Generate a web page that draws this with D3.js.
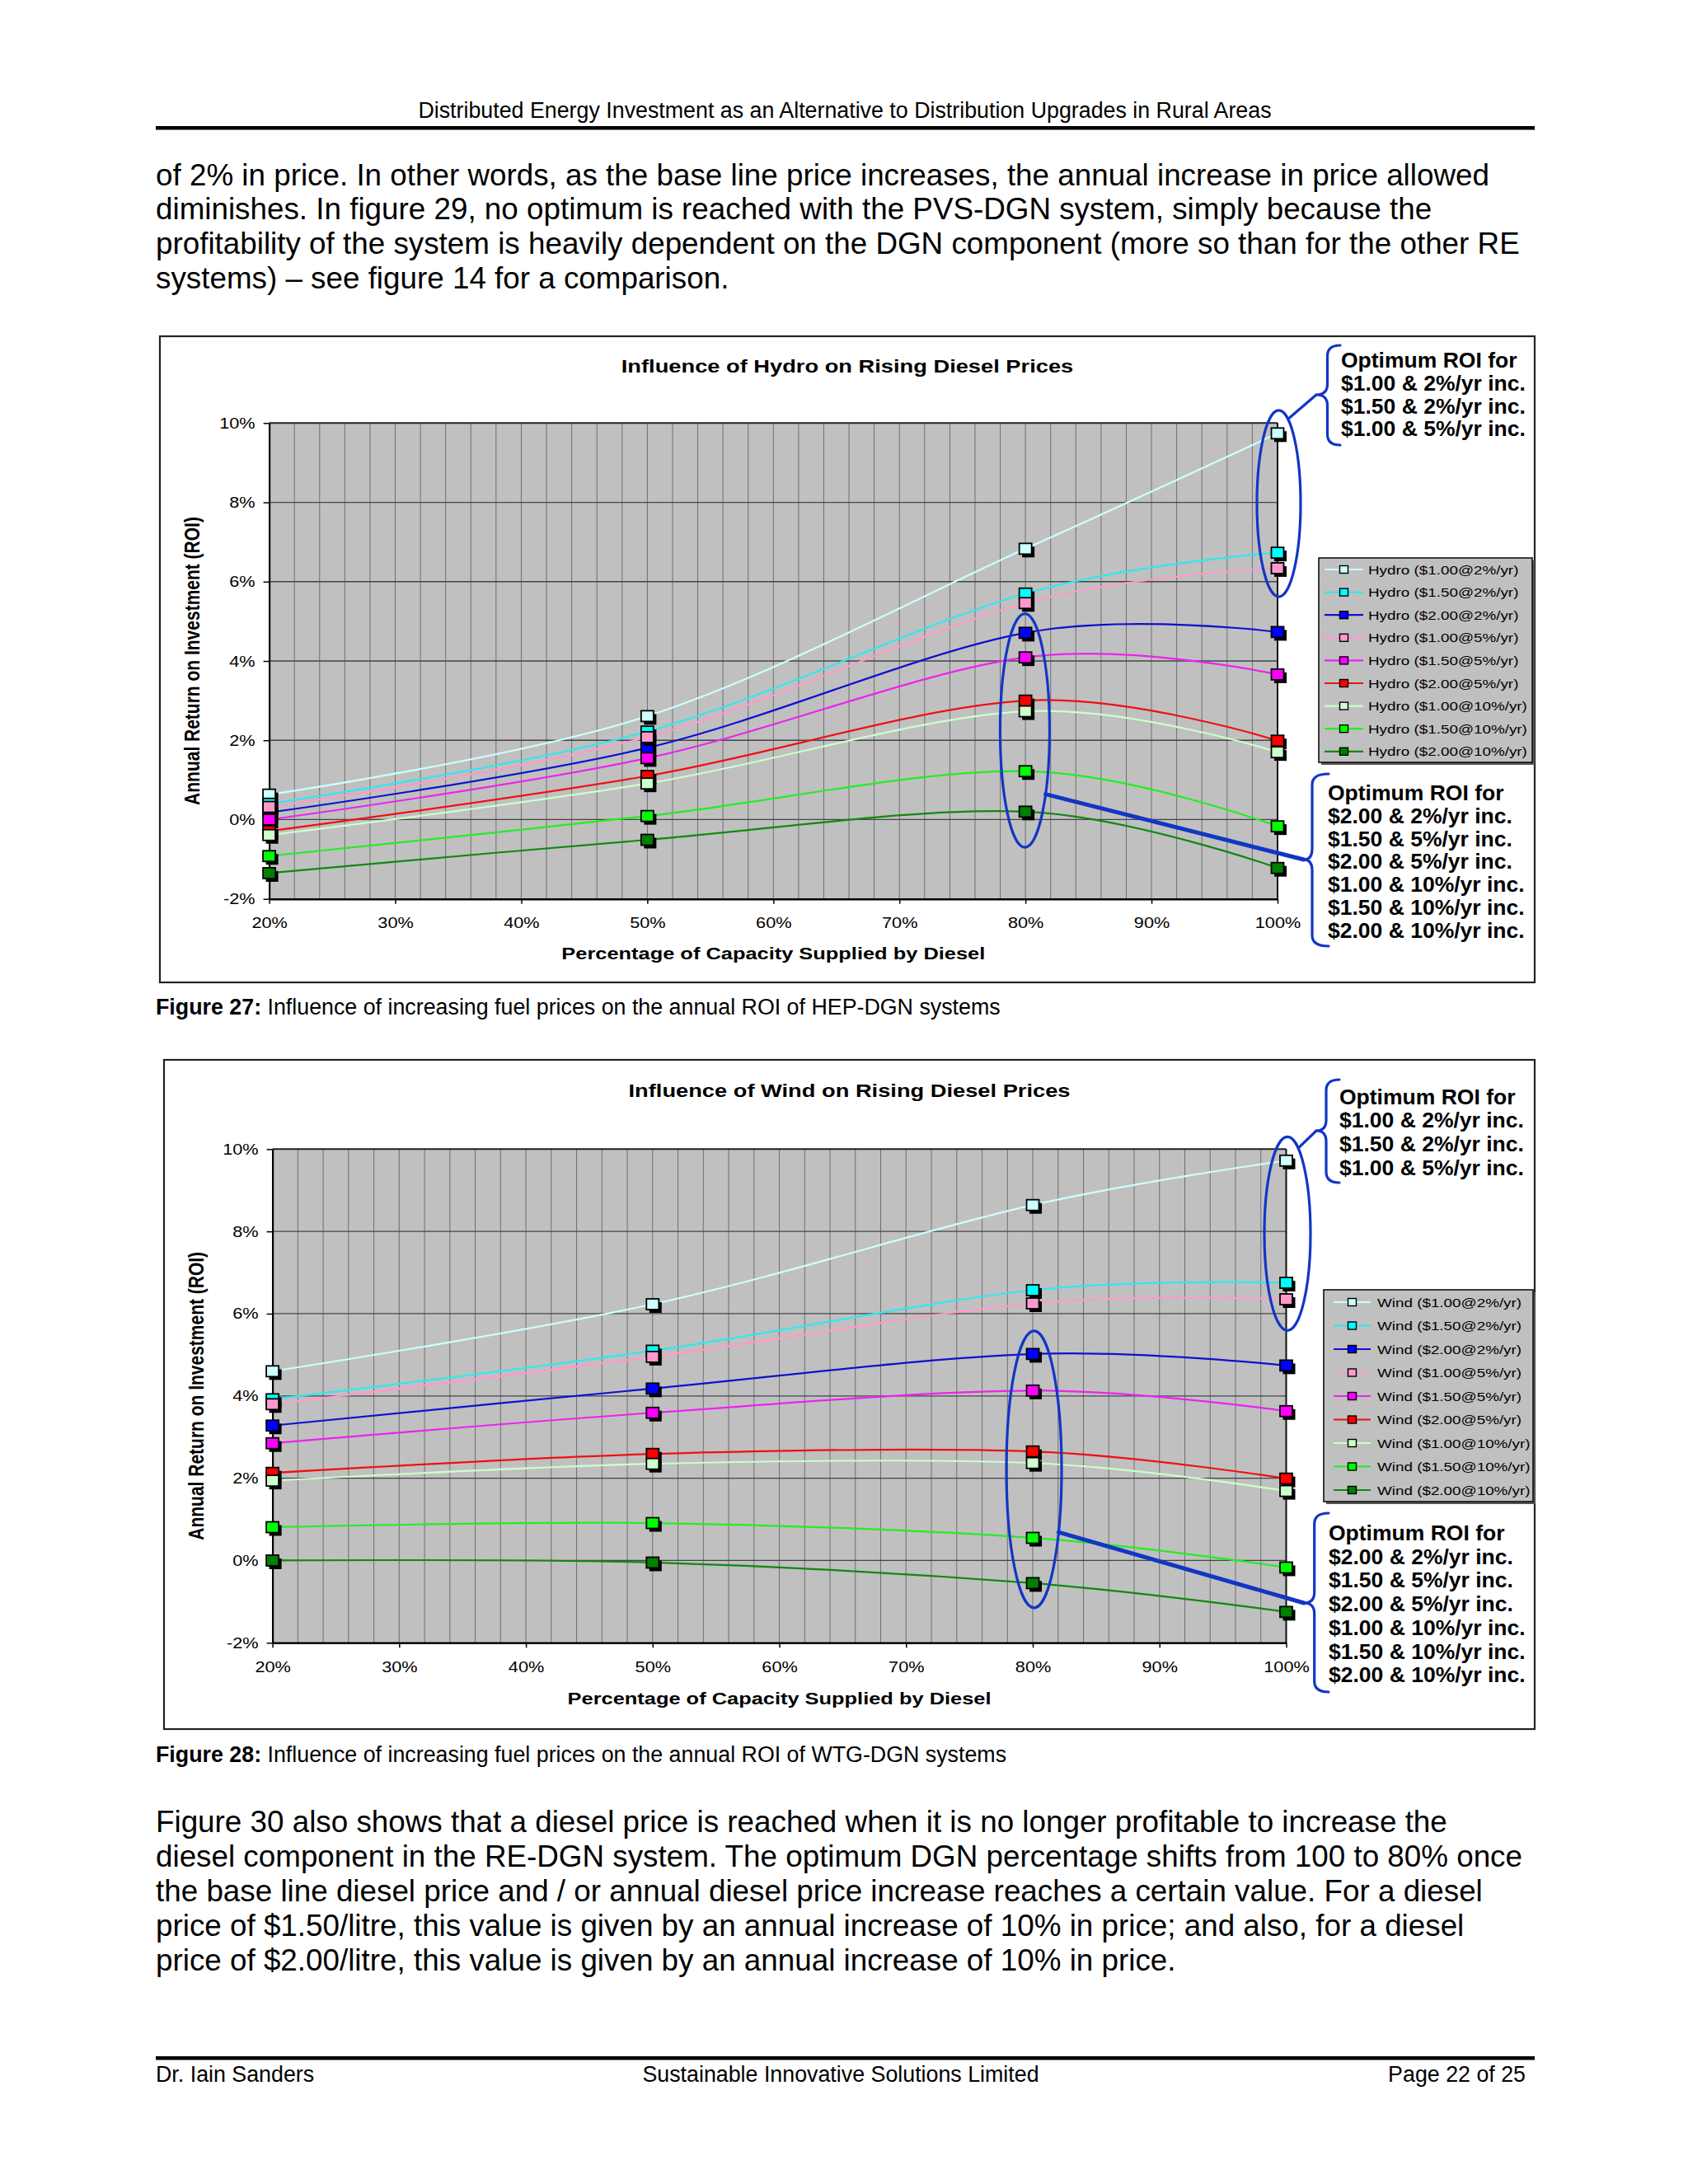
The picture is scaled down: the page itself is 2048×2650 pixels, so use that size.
<!DOCTYPE html>
<html><head><meta charset="utf-8">
<script src="https://cdn.jsdelivr.net/npm/d3@7/dist/d3.min.js"></script>
<style>
body{margin:0;background:#fff}
svg{display:block}
text{font-family:"Liberation Sans",Arial,Helvetica,sans-serif}
</style>
</head><body>
<svg id="page" width="2048" height="2650"></svg>
<script>
// ---------------- DATA ----------------
const xCategories = [20, 50, 80, 100];
const xTicks = [20, 30, 40, 50, 60, 70, 80, 90, 100];
const yTicks = [-2, 0, 2, 4, 6, 8, 10];
const seriesNames = ["$1.00@2%/yr", "$1.50@2%/yr", "$2.00@2%/yr",
                     "$1.00@5%/yr", "$1.50@5%/yr", "$2.00@5%/yr",
                     "$1.00@10%/yr", "$1.50@10%/yr", "$2.00@10%/yr"];
const seriesColors = ["#CCFFFF", "#00FFFF", "#0000FF",
                      "#FF99CC", "#FF00FF", "#FF0000",
                      "#CCFFCC", "#00FF00", "#008000"];
const lineColors   = ["#CCFFFF", "#33E6F0", "#1010D0",
                      "#FF99CC", "#EE22EE", "#EE1111",
                      "#CCFFCC", "#22EE22", "#118811"];
const hydroValues = [
  [0.63, 2.61, 6.83, 9.74],
  [0.40, 2.22, 5.70, 6.73],
  [0.18, 1.81, 4.71, 4.73],
  [0.32, 2.08, 5.46, 6.34],
  [0.00, 1.55, 4.09, 3.66],
  [-0.29, 1.10, 3.00, 1.99],
  [-0.39, 0.91, 2.73, 1.70],
  [-0.92, 0.09, 1.22, -0.17],
  [-1.35, -0.51, 0.20, -1.22]
];
const windValues = [
  [4.60, 6.23, 8.64, 9.72],
  [3.92, 5.10, 6.57, 6.75],
  [3.28, 4.18, 5.02, 4.74],
  [3.80, 4.95, 6.25, 6.35],
  [2.85, 3.59, 4.13, 3.63],
  [2.13, 2.59, 2.65, 1.99],
  [1.94, 2.35, 2.37, 1.69],
  [0.81, 0.91, 0.55, -0.17],
  [0.00, -0.05, -0.55, -1.25]
];
const optimumTop = ["Optimum ROI for", "$1.00 & 2%/yr inc.", "$1.50 & 2%/yr inc.", "$1.00 & 5%/yr inc."];
const optimumBottom = ["Optimum ROI for", "$2.00 & 2%/yr inc.", "$1.50 & 5%/yr inc.", "$2.00 & 5%/yr inc.",
                       "$1.00 & 10%/yr inc.", "$1.50 & 10%/yr inc.", "$2.00 & 10%/yr inc."];
const headerText = "Distributed Energy Investment as an Alternative to Distribution Upgrades in Rural Areas";
const para1 = [
  "of 2% in price. In other words, as the base line price increases, the annual increase in price allowed",
  "diminishes. In figure 29, no optimum is reached with the PVS-DGN system, simply because the",
  "profitability of the system is heavily dependent on the DGN component (more so than for the other RE",
  "systems) \u2013 see figure 14 for a comparison."
];
const para2 = [
  "Figure 30 also shows that a diesel price is reached when it is no longer profitable to increase the",
  "diesel component in the RE-DGN system. The optimum DGN percentage shifts from 100 to 80% once",
  "the base line diesel price and / or annual diesel price increase reaches a certain value. For a diesel",
  "price of $1.50/litre, this value is given by an annual increase of 10% in price; and also, for a diesel",
  "price of $2.00/litre, this value is given by an annual increase of 10% in price."
];
const footer = ["Dr. Iain Sanders", "Sustainable Innovative Solutions Limited", "Page 22 of 25"];

// ---------------- HELPERS ----------------
const svg = d3.select("#page");
const SX = 1.24;               // chart picture is stretched horizontally
const BLUE = "#1236C4";

function stext(g, x, y, str, o) {
  return g.append("text")
    .attr("transform", `translate(${x},${y}) scale(${SX},1)` + (o.rotate ? ` rotate(${o.rotate})` : ""))
    .attr("font-size", o.size)
    .attr("font-weight", o.bold ? "bold" : "normal")
    .attr("text-anchor", o.anchor || "start")
    .attr("fill", "#000")
    .text(str);
}
function bracePath(b) {
  const r1 = 13;
  return `M${b.xEnd},${b.yTop} Q${b.xStem},${b.yTop} ${b.xStem},${b.yTop + r1} L${b.xStem},${b.yTip - r1} ` +
         `Q${b.xStem},${b.yTip} ${b.xTip},${b.yTip} Q${b.xStem},${b.yTip} ${b.xStem},${b.yTip + r1} ` +
         `L${b.xStem},${b.yBot - r1} Q${b.xStem},${b.yBot} ${b.xEnd},${b.yBot}`;
}

function drawChart(cfg) {
  const g = svg.append("g");
  const P = cfg.plot;
  const x = d3.scaleLinear().domain([20, 100]).range([P.x0, P.x1]);
  const y = d3.scaleLinear().domain([-2, 10]).range([P.y1, P.y0]);

  g.append("rect").attr("x", cfg.box.x).attr("y", cfg.box.y).attr("width", cfg.box.w).attr("height", cfg.box.h)
    .attr("fill", "#fff").attr("stroke", "#222").attr("stroke-width", 2.2);

  // plot background
  g.append("rect").attr("x", P.x0).attr("y", P.y0).attr("width", P.x1 - P.x0).attr("height", P.y1 - P.y0)
    .attr("fill", "#C0C0C0");
  // vertical minor gridlines every 2%
  g.append("g").selectAll("line").data(d3.range(22, 100, 2)).join("line")
    .attr("x1", d => x(d)).attr("x2", d => x(d)).attr("y1", P.y0).attr("y2", P.y1)
    .attr("stroke", "#6e6e6e").attr("stroke-width", 1);
  // horizontal major gridlines
  g.append("g").selectAll("line").data(yTicks.filter(d => d > -2)).join("line")
    .attr("x1", P.x0).attr("x2", P.x1).attr("y1", d => y(d)).attr("y2", d => y(d))
    .attr("stroke", d => d === 10 ? "#222" : "#444").attr("stroke-width", d => d === 10 ? 2 : 1.3);
  // right border
  g.append("line").attr("x1", P.x1).attr("x2", P.x1).attr("y1", P.y0).attr("y2", P.y1)
    .attr("stroke", "#111").attr("stroke-width", 2);

  // axes
  const ya = g.append("g").attr("transform", `translate(${P.x0},0)`)
    .call(d3.axisLeft(y).tickValues(yTicks).tickFormat(d => d + "%").tickSize(7).tickSizeOuter(0));
  ya.select(".domain").attr("stroke", "#000").attr("stroke-width", 2.2);
  ya.selectAll(".tick line").attr("stroke", "#000").attr("stroke-width", 1.5);
  ya.selectAll(".tick text").attr("x", null).attr("dy", null)
    .attr("transform", `translate(-17,6) scale(${SX},1)`)
    .attr("font-size", 17.5).attr("font-family", null).attr("fill", "#000");

  const xa = g.append("g").attr("transform", `translate(0,${P.y1})`)
    .call(d3.axisBottom(x).tickValues(xTicks).tickFormat(d => d + "%").tickSize(6).tickSizeOuter(0));
  xa.select(".domain").attr("stroke", "#000").attr("stroke-width", 2.6);
  xa.selectAll(".tick line").attr("stroke", "#000").attr("stroke-width", 1.5);
  xa.selectAll(".tick text").attr("y", null).attr("dy", null)
    .attr("transform", `translate(0,${cfg.xLabelY - P.y1}) scale(${SX},1)`)
    .attr("font-size", 17.5).attr("font-family", null).attr("fill", "#000");

  // titles
  stext(g, cfg.titleX, cfg.titleY, cfg.title, {size: 22, bold: true, anchor: "middle"});
  stext(g, (P.x0 + P.x1) / 2, cfg.xTitleY, "Percentage of Capacity Supplied by Diesel", {size: 20.5, bold: true, anchor: "middle"});
  stext(g, cfg.yTitleX, (P.y0 + P.y1) / 2, "Annual Return on Investment (ROI)", {size: 21, bold: true, anchor: "middle", rotate: -90});

  // series
  const line = d3.line().x(d => x(d[0])).y(d => y(d[1])).curve(d3.curveCardinal.tension(0));
  const series = cfg.values.map((vals, i) => ({i, pts: xCategories.map((c, k) => [c, vals[k]])}));
  g.append("g").selectAll("path").data(series).join("path")
    .attr("d", s => line(s.pts)).attr("fill", "none")
    .attr("stroke", s => lineColors[s.i]).attr("stroke-width", 2.2);
  const mw = 15, mh = 13;
  const mg = g.append("g");
  series.forEach(s => {
    const gg = mg.append("g");
    gg.selectAll("rect.sh").data(s.pts).join("rect").attr("class", "sh")
      .attr("x", d => x(d[0]) - mw / 2 + 3.5).attr("y", d => y(d[1]) - mh / 2 + 4)
      .attr("width", mw).attr("height", mh).attr("fill", "#000");
    gg.selectAll("rect.mk").data(s.pts).join("rect").attr("class", "mk")
      .attr("x", d => x(d[0]) - mw / 2).attr("y", d => y(d[1]) - mh / 2)
      .attr("width", mw).attr("height", mh).attr("fill", seriesColors[s.i])
      .attr("stroke", "#000").attr("stroke-width", 1.8);
  });

  // legend
  const L = cfg.legend;
  g.append("rect").attr("x", L.x + 3).attr("y", L.y + 3).attr("width", L.w).attr("height", L.h).attr("fill", "#555");
  g.append("rect").attr("x", L.x).attr("y", L.y).attr("width", L.w).attr("height", L.h)
    .attr("fill", "#C0C0C0").attr("stroke", "#111").attr("stroke-width", 1.6);
  seriesNames.forEach((name, i) => {
    const ry = L.row0 + i * L.step;
    g.append("line").attr("x1", L.lx0).attr("x2", L.lx1).attr("y1", ry).attr("y2", ry)
      .attr("stroke", lineColors[i]).attr("stroke-width", 2.2);
    const cx = (L.lx0 + L.lx1) / 2;
    g.append("rect").attr("x", cx - 5).attr("y", ry - 4.5).attr("width", 10).attr("height", 9)
      .attr("fill", seriesColors[i]).attr("stroke", "#000").attr("stroke-width", 1.4);
    stext(g, L.tx, ry + 5.5, `${cfg.prefix} (${name})`, {size: 15.2});
  });

  // annotations
  const A = g.append("g");
  cfg.ellipses.forEach(e => {
    const cx = x(e.cat) + e.dx, yT = y(e.yTop), yB = y(e.yBot);
    const cy = (yT + yB) / 2, ry = (yB - yT) / 2;
    A.append("ellipse").attr("cx", cx).attr("cy", cy).attr("rx", e.rx).attr("ry", ry)
      .attr("fill", "none").attr("stroke", BLUE).attr("stroke-width", 3.2);
    const th = e.theta * Math.PI / 180;
    A.append("line").attr("x1", cx + e.rx * Math.cos(th)).attr("y1", cy + ry * Math.sin(th))
      .attr("x2", e.brace.xTip).attr("y2", e.brace.yTip)
      .attr("stroke", BLUE).attr("stroke-width", e.lw).attr("stroke-linecap", "round");
    A.append("path").attr("d", bracePath(e.brace)).attr("fill", "none")
      .attr("stroke", BLUE).attr("stroke-width", 3.2).attr("stroke-linecap", "round");
    e.lines.forEach((t, k) => {
      A.append("text").attr("x", e.textX).attr("y", e.textY + k * e.textStep)
        .attr("font-size", 26.5).attr("font-weight", "bold").attr("fill", "#000").text(t);
    });
  });
}

// ---------------- PAGE TEXT ----------------
svg.append("text").attr("x", 1025).attr("y", 143).attr("text-anchor", "middle").attr("font-size", 26.8).text(headerText);
svg.append("rect").attr("x", 189).attr("y", 153).attr("width", 1673).attr("height", 4.5).attr("fill", "#000");
para1.forEach((t, i) => svg.append("text").attr("x", 189).attr("y", 224.5 + i * 41.9).attr("font-size", 36.8).text(t));
para2.forEach((t, i) => svg.append("text").attr("x", 189).attr("y", 2223 + i * 42).attr("font-size", 36.8).text(t));

function caption(yb, num, rest) {
  const t = svg.append("text").attr("x", 189).attr("y", yb).attr("font-size", 26.8);
  t.append("tspan").attr("font-weight", "bold").text(`Figure ${num}:`);
  t.append("tspan").text(" " + rest);
}
caption(1230.5, 27, "Influence of increasing fuel prices on the annual ROI of HEP-DGN systems");
caption(2137.5, 28, "Influence of increasing fuel prices on the annual ROI of WTG-DGN systems");

svg.append("rect").attr("x", 189).attr("y", 2495).attr("width", 1673).attr("height", 4.5).attr("fill", "#000");
svg.append("text").attr("x", 189).attr("y", 2526).attr("font-size", 26.8).text(footer[0]);
svg.append("text").attr("x", 1020).attr("y", 2526).attr("text-anchor", "middle").attr("font-size", 26.8).text(footer[1]);
svg.append("text").attr("x", 1851).attr("y", 2526).attr("text-anchor", "end").attr("font-size", 26.8).text(footer[2]);

// ---------------- CHARTS ----------------
drawChart({
  title: "Influence of Hydro on Rising Diesel Prices", prefix: "Hydro", values: hydroValues,
  box: {x: 194, y: 408, w: 1668, h: 784},
  plot: {x0: 326.6, x1: 1550, y0: 513.3, y1: 1090.7},
  titleX: 1028, titleY: 452, xTitleY: 1163.5, yTitleX: 242, xLabelY: 1125.5,
  legend: {x: 1600, y: 677, w: 259, h: 248, row0: 691, step: 27.6, lx0: 1607, lx1: 1654, tx: 1660},
  ellipses: [
    {cat: 100, dx: 1.5, yTop: 10.32, yBot: 5.62, rx: 26.5, theta: -65, lw: 3.2,
     brace: {xTip: 1597, xStem: 1610.5, xEnd: 1626, yTop: 419, yTip: 479, yBot: 540},
     lines: optimumTop, textX: 1627, textY: 446, textStep: 27.8},
    {cat: 80, dx: -0.7, yTop: 5.19, yBot: -0.70, rx: 30, theta: 33, lw: 5,
     brace: {xTip: 1582, xStem: 1592, xEnd: 1612, yTop: 939, yTip: 1043, yBot: 1148},
     lines: optimumBottom, textX: 1611, textY: 971, textStep: 27.8}
  ]
});
drawChart({
  title: "Influence of Wind on Rising Diesel Prices", prefix: "Wind", values: windValues,
  box: {x: 199, y: 1286, w: 1663, h: 812},
  plot: {x0: 330.6, x1: 1560.5, y0: 1394.3, y1: 1993.3},
  titleX: 1030.5, titleY: 1331, xTitleY: 2067.5, yTitleX: 247, xLabelY: 2029,
  legend: {x: 1606, y: 1565, w: 254, h: 257, row0: 1580, step: 28.5, lx0: 1618, lx1: 1663, tx: 1671},
  ellipses: [
    {cat: 100, dx: 1.5, yTop: 10.30, yBot: 5.59, rx: 28, theta: -62, lw: 3.2,
     brace: {xTip: 1597, xStem: 1609, xEnd: 1625, yTop: 1310, yTip: 1372, yBot: 1435},
     lines: optimumTop, textX: 1625, textY: 1339.5, textStep: 28.9},
    {cat: 80, dx: 1.5, yTop: 5.58, yBot: -1.15, rx: 33.5, theta: 27, lw: 5,
     brace: {xTip: 1582, xStem: 1594.7, xEnd: 1612, yTop: 1836, yTip: 1945, yBot: 2053},
     lines: optimumBottom, textX: 1612, textY: 1869, textStep: 28.7}
  ]
});
</script>
</body></html>
